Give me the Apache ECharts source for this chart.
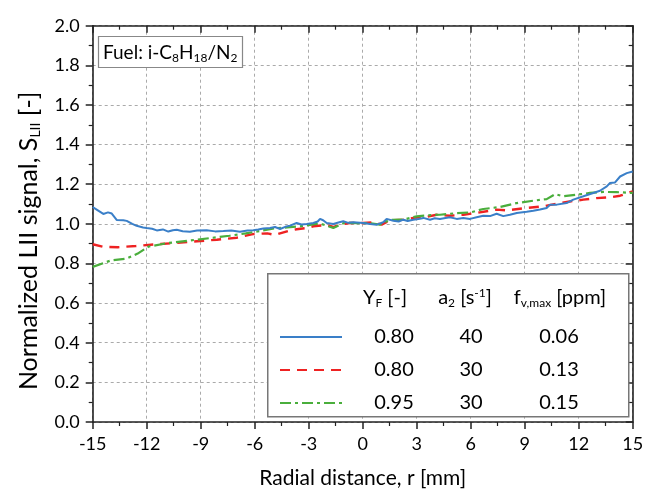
<!DOCTYPE html>
<html>
<head>
<meta charset="utf-8">
<script src="https://cdn.jsdelivr.net/npm/echarts@6/dist/echarts.min.js"></script>
<style>html,body{margin:0;padding:0;background:#fff}#c{width:652px;height:494px}</style>
</head>
<body>
<div id="c"></div>
<script>
// Data: [r (mm), normalized LII signal]
var blueData = [[-15,1.085],[-14.78,1.072],[-14.41,1.05],[-14.15,1.058],[-13.94,1.052],[-13.67,1.02],[-13.3,1.018],[-13.11,1.015],[-12.8,1.0],[-12.56,0.99],[-12.2,0.982],[-12.0,0.979],[-11.7,0.975],[-11.44,0.967],[-11.1,0.972],[-10.8,0.961],[-10.55,0.968],[-10.33,0.97],[-10.0,0.963],[-9.6,0.96],[-9.2,0.966],[-8.67,0.968],[-8.2,0.962],[-7.74,0.964],[-7.3,0.966],[-6.82,0.96],[-6.4,0.966],[-6.08,0.968],[-5.8,0.972],[-5.52,0.977],[-5.15,0.979],[-4.87,0.984],[-4.59,0.974],[-4.3,0.985],[-4.04,0.991],[-3.67,1.004],[-3.4,0.997],[-3.11,0.999],[-2.74,1.004],[-2.5,1.012],[-2.37,1.025],[-2.2,1.018],[-2.0,1.004],[-1.63,0.999],[-1.3,1.008],[-1.08,1.013],[-0.8,1.005],[-0.52,1.008],[0.03,1.004],[0.41,0.999],[0.78,0.996],[1.14,1.008],[1.33,1.025],[1.7,1.016],[2.0,1.012],[2.26,1.021],[2.5,1.014],[2.81,1.021],[3.1,1.024],[3.37,1.03],[3.74,1.021],[4.0,1.028],[4.29,1.025],[4.6,1.03],[4.85,1.033],[5.22,1.025],[5.59,1.03],[5.96,1.025],[6.33,1.033],[6.7,1.041],[7.07,1.039],[7.44,1.051],[7.81,1.039],[8.18,1.046],[8.56,1.055],[9.11,1.061],[9.48,1.066],[9.85,1.072],[10.22,1.08],[10.41,1.097],[10.78,1.097],[11.33,1.105],[11.7,1.122],[12.26,1.139],[12.81,1.156],[13.18,1.167],[13.56,1.189],[13.74,1.206],[14.02,1.209],[14.3,1.239],[14.67,1.256],[15,1.264]];
var redData = [[-15,0.897],[-14.4,0.884],[-13.6,0.882],[-12.6,0.888],[-11.6,0.896],[-10.3,0.904],[-9.2,0.912],[-8.1,0.92],[-7.0,0.93],[-6.1,0.948],[-5.3,0.952],[-4.87,0.944],[-4.1,0.965],[-3.67,0.973],[-3.11,0.979],[-2.74,0.988],[-2.0,0.994],[-1.63,0.984],[-1.3,0.996],[-0.7,1.004],[0.03,1.004],[0.6,1.008],[1.05,0.996],[1.5,1.018],[2.26,1.021],[2.81,1.03],[3.56,1.035],[4.1,1.046],[4.85,1.041],[5.59,1.046],[6.33,1.055],[7.44,1.072],[8.0,1.068],[9.11,1.08],[10.0,1.088],[10.78,1.102],[11.5,1.113],[12.26,1.122],[13.0,1.13],[13.74,1.134],[14.3,1.142],[15,1.164]];
var greenData = [[-15,0.783],[-14.0,0.815],[-13.1,0.825],[-12.5,0.85],[-11.9,0.885],[-10.9,0.902],[-9.6,0.916],[-8.5,0.928],[-7.4,0.94],[-6.5,0.952],[-5.6,0.966],[-4.87,0.978],[-4.2,0.982],[-3.5,0.987],[-2.6,1.0],[-2.2,0.997],[-1.63,0.979],[-1.0,1.006],[-0.3,1.004],[0.4,1.004],[0.95,0.996],[1.5,1.02],[2.26,1.021],[3.0,1.038],[3.56,1.043],[4.29,1.046],[5.1,1.053],[6.0,1.058],[6.7,1.075],[7.63,1.085],[8.56,1.105],[9.48,1.117],[10.22,1.125],[10.7,1.15],[11.15,1.139],[11.9,1.147],[12.63,1.156],[13.37,1.161],[14.1,1.16],[15,1.156]];

var seriesNames = ['s1','s2','s3'];
var colYF = ['0.80','0.80','0.95'];
var colA2 = ['40','30','30'];
var colFv = ['0.06','0.13','0.15'];

var FONT = 'Lato';
var AX = '#222';
var TXT = '#000';
var chart = echarts.init(document.getElementById('c'));

function baseAxis(extra){
  return Object.assign({
    axisLine:{show:true,onZero:false,lineStyle:{color:AX,width:1.6}},
    splitLine:{show:false},
    minorSplitLine:{show:false}
  }, extra);
}
var subRich = {fontFamily:FONT,fontSize:12,color:TXT,padding:[11,0,0,0]};

chart.setOption({
  animation:false,
  backgroundColor:'#fff',
  title:{
    text:'Fuel: i-C{s|8}H{s|18}/N{s|2}',
    left:98, top:34,
    padding:[7,5,4,5],
    borderColor:'#888', borderWidth:1.2, backgroundColor:'#fff',
    textStyle:{fontFamily:FONT,fontSize:19,fontWeight:'normal',color:TXT,
      rich:{s:subRich}}
  },
  grid:{left:92.7,right:19.3,top:25.7,bottom:71.3,containLabel:false},
  legend:{
    orient:'vertical', left:274, top:322,
    itemWidth:62, itemHeight:14, itemGap:13,
    data:seriesNames,
    itemStyle:{opacity:0,borderWidth:0},
    formatter:function(name){
      var i = seriesNames.indexOf(name);
      return '{a|'+colYF[i]+'}{b|'+colA2[i]+'}{c|'+colFv[i]+'}';
    },
    textStyle:{fontFamily:FONT,fontSize:20,color:TXT,lineHeight:20,
      rich:{a:{width:94,align:'center',fontSize:20,lineHeight:20,fontFamily:FONT,color:TXT},
            b:{width:60,align:'center',fontSize:20,lineHeight:20,fontFamily:FONT,color:TXT},
            c:{width:116,align:'center',fontSize:20,lineHeight:20,fontFamily:FONT,color:TXT}}},
    z:20
  },
  xAxis:[
    baseAxis({type:'value',min:-15,max:15,interval:3,position:'bottom',
      name:'Radial distance, r [mm]',nameLocation:'middle',nameGap:46,
      nameTextStyle:{fontFamily:FONT,fontSize:21,color:TXT},
      axisTick:{show:true,inside:false,length:7,lineStyle:{color:AX,width:1.5}},
      minorTick:{show:true,splitNumber:2,length:4,lineStyle:{color:AX,width:1.2}},
      axisLabel:{fontFamily:FONT,fontSize:18,color:TXT,margin:13},
      splitLine:{show:true,lineStyle:{color:'#aaa',type:[3,3],width:1}}}),
    baseAxis({type:'value',min:-15,max:15,interval:3,position:'top',
      axisTick:{show:true,inside:true,length:7,lineStyle:{color:AX,width:1.5}},
      minorTick:{show:true,splitNumber:2,length:4,lineStyle:{color:AX,width:1.2}},
      axisLabel:{show:false}})
  ],
  yAxis:[
    baseAxis({type:'value',min:0,max:2,interval:0.2,position:'left',
      name:'Normalized LII signal, S{s|LII} [-]',nameLocation:'middle',nameGap:50,nameRotate:90,
      nameTextStyle:{fontFamily:FONT,fontSize:25,color:TXT,padding:[0,34,0,0],
        rich:{s:{fontFamily:FONT,fontSize:14,color:TXT,padding:[13,0,0,0]}}},
      axisTick:{show:true,inside:false,length:7,lineStyle:{color:AX,width:1.5}},
      minorTick:{show:true,splitNumber:2,length:4,lineStyle:{color:AX,width:1.2}},
      axisLabel:{fontFamily:FONT,fontSize:18,color:TXT,margin:13,
        formatter:function(v){return v.toFixed(1);}},
      splitLine:{show:true,lineStyle:{color:'#aaa',type:[3,3],width:1}}}),
    baseAxis({type:'value',min:0,max:2,interval:0.2,position:'right',
      axisTick:{show:true,inside:true,length:7,lineStyle:{color:AX,width:1.5}},
      minorTick:{show:true,splitNumber:2,length:4,lineStyle:{color:AX,width:1.2}},
      axisLabel:{show:false}})
  ],
  graphic:[
    {type:'rect',left:267,top:273,z:10,shape:{width:361,height:143},
     style:{fill:'#fff',stroke:'#777',lineWidth:1.5}},
    {type:'text',z:11,x:385,y:298,style:{text:'Y{s|F} [-]',fontFamily:FONT,fontSize:20,fill:TXT,align:'center',verticalAlign:'middle',
      rich:{s:{fontFamily:FONT,fontSize:12,fill:TXT,padding:[11,0,0,0]}}}},
    {type:'text',z:11,x:465,y:298,style:{text:'a{s|2} [s{p|-1}]',fontFamily:FONT,fontSize:20,fill:TXT,align:'center',verticalAlign:'middle',
      rich:{s:{fontFamily:FONT,fontSize:12,fill:TXT,padding:[11,0,0,0]},p:{fontFamily:FONT,fontSize:12,fill:TXT,padding:[0,0,10,0]}}}},
    {type:'text',z:11,x:560,y:298,style:{text:'f{s|v,max} [ppm]',fontFamily:FONT,fontSize:20,fill:TXT,align:'center',verticalAlign:'middle',
      rich:{s:{fontFamily:FONT,fontSize:12,fill:TXT,padding:[11,0,0,0]}}}}
  ],
  series:[
    {name:'s1',type:'line',data:blueData,symbol:'none',xAxisIndex:0,yAxisIndex:0,
     lineStyle:{color:'#3a7fc8',width:2},itemStyle:{color:'#3a7fc8'},z:3},
    {name:'s2',type:'line',data:redData,symbol:'none',xAxisIndex:0,yAxisIndex:0,
     lineStyle:{color:'#ee2222',width:2.4,type:[10,7]},itemStyle:{color:'#ee2222'},z:2},
    {name:'s3',type:'line',data:greenData,symbol:'none',xAxisIndex:0,yAxisIndex:0,
     lineStyle:{color:'#4aae3c',width:2.2,type:[11,4,3,4]},itemStyle:{color:'#4aae3c'},z:2}
  ]
});
</script>
</body>
</html>
